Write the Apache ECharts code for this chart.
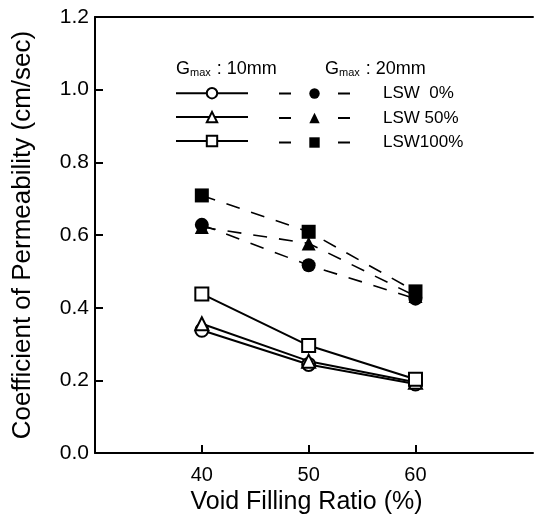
<!DOCTYPE html>
<html>
<head>
<meta charset="utf-8">
<script src="https://cdn.jsdelivr.net/npm/echarts@6/dist/echarts.min.js"></script>
<style>html,body{margin:0;padding:0;background:#fff}#c{width:535px;height:520px}</style>
</head>
<body>
<div id="c"></div>
<script>
var xValues = [40, 50, 60];
var xTicks = [40, 50, 60];
var lswLabels = ['LSW  0%', 'LSW 50%', 'LSW100%'];
// Gmax 10 mm (open symbols, solid lines)
var g10_lsw0 = [0.338, 0.244, 0.190];
var g10_lsw50 = [0.356, 0.253, 0.195];
var g10_lsw100 = [0.438, 0.296, 0.203];
// Gmax 20 mm (filled symbols, dashed lines)
var g20_lsw0 = [0.628, 0.517, 0.425];
var g20_lsw50 = [0.622, 0.577, 0.432];
var g20_lsw100 = [0.709, 0.609, 0.445];

var FONT = '"Liberation Sans", Arial, Helvetica, sans-serif';
function pts(arr) { return xValues.map(function (x, i) { return [x, arr[i]]; }); }

var solidNames = ['10mm LSW 0%', '10mm LSW 50%', '10mm LSW 100%'];
var dashNames = ['20mm LSW 0%', '20mm LSW 50%', '20mm LSW 100%'];

function solid(name, data, symbol, size) {
  return { name: name, type: 'line', data: pts(data), symbol: symbol, symbolSize: size,
    lineStyle: { color: '#000', width: 2 }, itemStyle: { color: '#000', borderWidth: 1.5 },
    z: 3, animation: false };
}
function dashed(name, data, symbol, size) {
  return { name: name, type: 'line', data: pts(data), symbol: symbol, symbolSize: size,
    lineStyle: { color: '#000', width: 1.6, type: [14, 12] }, itemStyle: { color: '#000' },
    z: 4, animation: false };
}

var chart = echarts.init(document.getElementById('c'));
chart.setOption({
  backgroundColor: '#fff',
  animation: false,
  textStyle: { fontFamily: FONT, color: '#000' },
  grid: { left: 95, right: 2, top: 17, bottom: 64 },
  xAxis: [{
    type: 'value', min: 30, max: 71, interval: 10,
    name: 'Void Filling Ratio (%)', nameLocation: 'middle', nameGap: 36,
    nameTextStyle: { fontSize: 25, color: '#000', fontFamily: FONT, padding: [0, 15, 0, 0] },
    axisLine: { show: true, lineStyle: { color: '#000', width: 2 } },
    axisTick: { show: true, inside: true, length: 8, lineStyle: { color: '#000', width: 2 }, customValues: xTicks },
    axisLabel: { fontSize: 20, color: '#000', fontFamily: FONT, margin: 12, customValues: xTicks,
      formatter: function (v) { return xTicks.indexOf(v) >= 0 ? String(v) : ''; } },
    splitLine: { show: false }
  }, {
    type: 'value', position: 'top', min: 30, max: 71,
    axisLine: { show: true, lineStyle: { color: '#000', width: 2 } },
    axisTick: { show: false }, axisLabel: { show: false }, splitLine: { show: false }
  }],
  yAxis: {
    type: 'value', min: 0, max: 1.2, interval: 0.2,
    name: 'Coefficient of Permeability (cm/sec)', nameLocation: 'middle', nameGap: 59,
    nameTextStyle: { fontSize: 26, color: '#000', fontFamily: FONT },
    axisLine: { show: true, lineStyle: { color: '#000', width: 2 } },
    axisTick: { show: true, inside: true, length: 8, lineStyle: { color: '#000', width: 2 } },
    axisLabel: { fontSize: 21, color: '#000', fontFamily: FONT, margin: 6,
      formatter: function (v) { return v.toFixed(1); } },
    splitLine: { show: false }
  },
  legend: [{
    data: solidNames, orient: 'vertical', left: 175, top: 87, padding: 0,
    itemWidth: 72, itemHeight: 13, itemGap: 11.5, selectedMode: false,
    formatter: function () { return ''; },
    textStyle: { fontSize: 17, lineHeight: 13 },
    lineStyle: { width: 2 }
  }, {
    data: dashNames, orient: 'vertical', left: 278, top: 85, padding: 0,
    itemWidth: 71, itemHeight: 13, itemGap: 7.5, selectedMode: false,
    formatter: function (n) { return lswLabels[dashNames.indexOf(n)]; },
    textStyle: { fontSize: 17, lineHeight: 13, color: '#000', fontFamily: FONT, padding: [0, 0, 0, 28] },
    lineStyle: { width: 2, type: [12, 47] }
  }],
  graphic: [{
    type: 'text', left: 176, top: 60,
    style: { text: 'G{s|max} : 10mm', fontSize: 18, fontFamily: FONT, fill: '#000',
      rich: { s: { fontSize: 11, fontFamily: FONT, verticalAlign: 'bottom', padding: [5, 1, 0, 0] } } }
  }, {
    type: 'text', left: 325, top: 60,
    style: { text: 'G{s|max} : 20mm', fontSize: 18, fontFamily: FONT, fill: '#000',
      rich: { s: { fontSize: 11, fontFamily: FONT, verticalAlign: 'bottom', padding: [5, 1, 0, 0] } } }
  }],
  series: [
    solid(solidNames[0], g10_lsw0, 'emptyCircle', 13),
    solid(solidNames[1], g10_lsw50, 'emptyTriangle', 13),
    solid(solidNames[2], g10_lsw100, 'emptyRect', 13),
    dashed(dashNames[1], g20_lsw50, 'triangle', 14),
    dashed(dashNames[0], g20_lsw0, 'circle', 14),
    dashed(dashNames[2], g20_lsw100, 'rect', 14)
  ]
});
</script>
</body>
</html>
